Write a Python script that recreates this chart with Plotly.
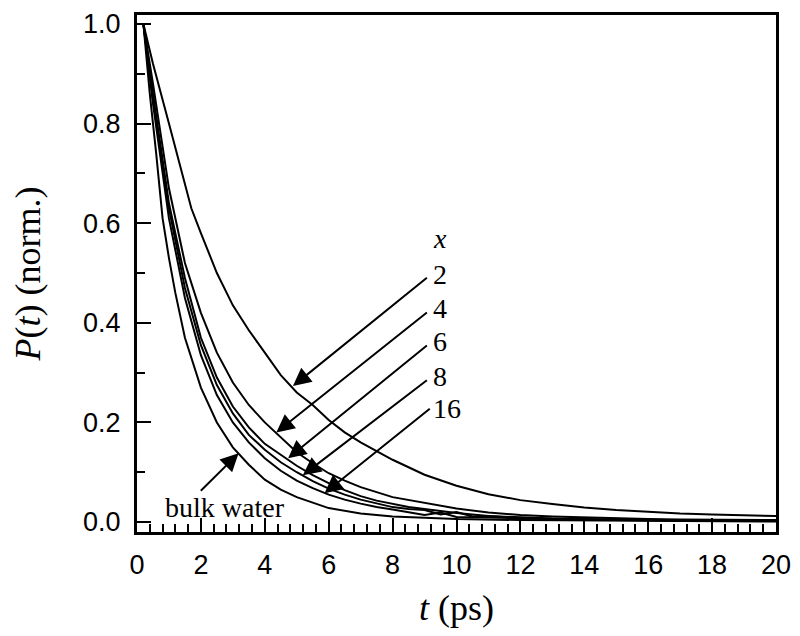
import plotly.graph_objects as go

# время, пс
t_bulk = [0.2, 0.4, 0.6, 0.8, 1.0, 1.2, 1.5, 2.0, 2.5, 3.0, 3.5, 4.0, 4.5, 5.0,
          6.0, 7.0, 8.0, 9.0, 10.0, 12.0, 14.0, 16.0, 18.0, 20.0]
p_bulk = [1.0, 0.86, 0.74, 0.61, 0.53, 0.46, 0.37, 0.27, 0.2, 0.15, 0.115, 0.085, 0.065, 0.05,
          0.028, 0.017, 0.011, 0.008, 0.006, 0.004, 0.003, 0.002, 0.002, 0.001]

t_x2 = [0.2, 0.5, 1.0, 1.5, 1.7, 2.0, 2.5, 3.0, 3.5, 4.0, 4.5, 5.0, 5.5, 6.0, 6.5, 7.0,
        8.0, 9.0, 10.0, 11.0, 12.0, 13.0, 14.0, 15.0, 16.0, 17.0, 18.0, 19.0, 20.0]
p_x2 = [1.0, 0.92, 0.80, 0.68, 0.63, 0.58, 0.50, 0.435, 0.385, 0.34, 0.295, 0.26, 0.235, 0.205, 0.18, 0.16,
        0.125, 0.095, 0.073, 0.056, 0.044, 0.036, 0.029, 0.024, 0.02, 0.017, 0.015, 0.013, 0.012]

t_x4 = [0.2, 0.5, 1.0, 1.5, 2.0, 2.5, 3.0, 3.5, 4.0, 4.5, 5.0, 5.5, 6.0, 6.5, 7.0,
        8.0, 9.0, 10.0, 11.0, 12.0, 13.0, 14.0, 15.0, 16.0, 17.0, 18.0, 19.0, 20.0]
p_x4 = [1.0, 0.88, 0.67, 0.52, 0.42, 0.34, 0.28, 0.235, 0.2, 0.17, 0.14, 0.118, 0.098, 0.083, 0.07,
        0.05, 0.038, 0.027, 0.019, 0.014, 0.011, 0.009, 0.007, 0.006, 0.005, 0.005, 0.004, 0.004]

t_x6 = [0.2, 0.5, 1.0, 1.5, 2.0, 2.5, 3.0, 3.5, 4.0, 4.5, 5.0, 5.5, 6.0, 6.5, 7.0, 7.5, 8.0,
        8.5, 9.0, 9.5, 10.0, 11.0, 12.0, 13.0, 14.0, 15.0, 16.0, 17.0, 18.0, 19.0, 20.0]
p_x6 = [1.0, 0.86, 0.64, 0.49, 0.37, 0.29, 0.232, 0.19, 0.157, 0.135, 0.113, 0.094, 0.078, 0.064, 0.052, 0.043, 0.036,
        0.03, 0.026, 0.022, 0.018, 0.012, 0.009, 0.007, 0.006, 0.005, 0.004, 0.004, 0.003, 0.003, 0.003]

t_x8 = [0.2, 0.5, 1.0, 1.5, 2.0, 2.5, 3.0, 3.5, 4.0, 4.5, 5.0, 5.5, 6.0, 6.5, 7.0, 7.5, 8.0,
        8.5, 9.0, 9.5, 10.0, 10.5, 11.0, 12.0, 13.0, 14.0, 15.0, 16.0, 17.0, 18.0, 19.0, 20.0]
p_x8 = [1.0, 0.85, 0.63, 0.47, 0.355, 0.275, 0.218, 0.175, 0.145, 0.12, 0.1, 0.082, 0.067, 0.055, 0.045, 0.037, 0.03,
        0.026, 0.024, 0.015, 0.02, 0.011, 0.012, 0.008, 0.006, 0.005, 0.004, 0.004, 0.003, 0.003, 0.003, 0.002]

t_x16 = [0.2, 0.5, 1.0, 1.5, 2.0, 2.5, 3.0, 3.5, 4.0, 4.5, 5.0, 5.5, 6.0, 6.5, 7.0, 7.5, 8.0,
         8.5, 9.0, 9.5, 10.0, 11.0, 12.0, 13.0, 14.0, 15.0, 16.0, 17.0, 18.0, 19.0, 20.0]
p_x16 = [1.0, 0.84, 0.61, 0.45, 0.335, 0.255, 0.2, 0.16, 0.128, 0.103, 0.083, 0.068, 0.055, 0.045, 0.037, 0.03, 0.025,
         0.02, 0.014, 0.019, 0.01, 0.009, 0.007, 0.005, 0.004, 0.004, 0.003, 0.003, 0.002, 0.002, 0.002]

series = [
    ("bulk water", t_bulk, p_bulk),
    ("2", t_x2, p_x2),
    ("4", t_x4, p_x4),
    ("6", t_x6, p_x6),
    ("8", t_x8, p_x8),
    ("16", t_x16, p_x16),
]

serif = "Liberation Serif, Times New Roman, serif"
sans = "Liberation Sans, Arial, sans-serif"

fig = go.Figure()
for name, t, p in series:
    fig.add_trace(go.Scatter(x=t, y=p, name=name, mode="lines",
                             line=dict(color="black", width=2), showlegend=False))

# стрелки: (хвост, наконечник) в координатах данных
arrows = [
    ((9.12, 0.493), (4.88, 0.273)),
    ((9.12, 0.423), (4.36, 0.180)),
    ((9.12, 0.357), (4.73, 0.128)),
    ((9.12, 0.287), (5.19, 0.094)),
    ((9.21, 0.230), (5.87, 0.058)),
    ((1.95, 0.060), (3.18, 0.138)),
]
for (ax, ay), (x, y) in arrows:
    fig.add_annotation(x=x, y=y, ax=ax, ay=ay, xref="x", yref="y", axref="x", ayref="y",
                       text="", showarrow=True, arrowhead=2, arrowsize=1.8,
                       arrowwidth=2, arrowcolor="black", standoff=0)

labels = [("<i>x</i>", 0.569), ("2", 0.497), ("4", 0.429), ("6", 0.363), ("8", 0.293), ("16", 0.228)]
for txt, y in labels:
    fig.add_annotation(x=9.2, y=y, text=txt, showarrow=False, xanchor="left",
                       font=dict(family=serif, size=28, color="black"))

fig.add_annotation(x=2.75, y=0.03, text="bulk water", showarrow=False,
                   font=dict(family=serif, size=28, color="black"))

fig.update_xaxes(
    range=[0, 20], dtick=2, tick0=0, automargin=False, ticklabeloverflow="allow",
    ticks="inside", ticklen=14, tickwidth=2, tickcolor="black",
    minor=dict(dtick=0.4, ticks="inside", ticklen=8, tickwidth=2, tickcolor="black"),
    showline=True, linewidth=3, linecolor="black", mirror=True,
    showgrid=False, zeroline=False,
    tickfont=dict(family=sans, size=27, color="black"),
    ticklabelstandoff=7,
    title=dict(text="<i>t</i> (ps)", font=dict(family=serif, size=36, color="black"), standoff=20),
)
fig.update_yaxes(
    range=[-0.02, 1.018], dtick=0.2, tick0=0, tickformat=".1f", automargin=False,
    ticklabeloverflow="allow",
    ticks="inside", ticklen=14, tickwidth=2, tickcolor="black",
    minor=dict(dtick=0.1, ticks="inside", ticklen=8, tickwidth=2, tickcolor="black"),
    showline=True, linewidth=3, linecolor="black", mirror=True,
    showgrid=False, zeroline=False,
    tickfont=dict(family=sans, size=27, color="black"),
    ticklabelstandoff=8,
    title=dict(text="<i>P</i>(<i>t</i>) (norm.)", font=dict(family=serif, size=36, color="black"), standoff=60),
)

# страница добавляет отступ 8px; фигура меньше окна, чтобы не было полос прокрутки
fig.update_layout(
    width=784, height=620,
    margin=dict(l=129, r=16, t=7, b=96, autoexpand=False),
    plot_bgcolor="white", paper_bgcolor="white",
)

fig.write_html("out.html")
